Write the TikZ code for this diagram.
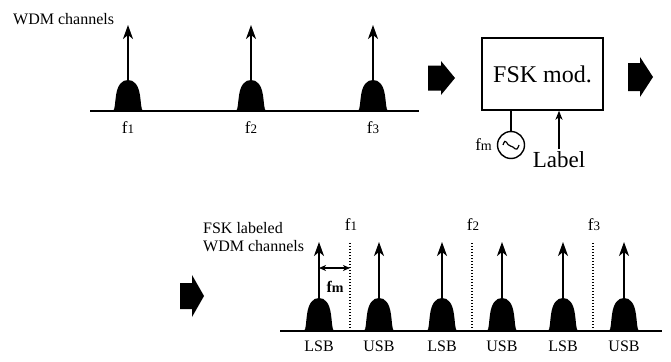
\documentclass[tikz,border=0pt]{standalone}
\usepackage{fontspec}
\setmainfont{Liberation Serif}
\usetikzlibrary{arrows.meta}
\newcommand\fq[1]{f\kern0.3pt{\fontsize{13}{13}\selectfont #1}}
\newcommand\blockarr[6]{%
  \fill (#1,#2-#3) -- (#1+#5,#2-#3) -- (#1+#5,#2-#4) -- (#1+#5+#6,#2)
   -- (#1+#5,#2+#4) -- (#1+#5,#2+#3) -- (#1,#2+#3) -- cycle;}
\tikzset{
  pics/bump/.style={code={
    \fill (-15,0) .. controls (-13,-1) and (-13,-0.3*#1) .. (-12,-0.5*#1)
      .. controls (-10.5,-0.85*#1) and (-6,-#1) .. (0,-#1)
      .. controls (6,-#1) and (10.5,-0.85*#1) .. (12,-0.5*#1)
      .. controls (13,-0.3*#1) and (13,-1) .. (15,0) -- cycle;}},
  axisline/.style={line width=1.6pt},
  carrier/.style={line width=1.8pt,-{Stealth[length=14pt,width=10pt,inset=4pt]}},
  lbl/.style={font=\fontsize{16}{16}\selectfont, inner sep=0pt},
  big/.style={font=\fontsize{24}{24}\selectfont, inner sep=0pt},
  dotline/.style={line width=1.6pt, dash pattern=on 1.3pt off 1.7pt},
}
\begin{document}
\begin{tikzpicture}[x=1pt,y=-1pt]
\useasboundingbox (0,0) rectangle (671,361);
% ---------- top spectrum ----------
\node[lbl, anchor=west] (wdm) at (13,19) {WDM channels};
\coordinate (a0) at (90,111);
\coordinate (a1) at (419,111);
\draw[axisline] (a0) -- (a1);
\foreach \x/\i in {128/1,251/2,373/3}{
  \pic at (\x,111) {bump=31};
  \coordinate (t\i) at (\x,82);
  \coordinate (h\i) at (\x,25);
  \draw[carrier] (t\i) -- (h\i);
  \node[lbl, font=\fontsize{17}{17}\selectfont] (f\i) at (\x,128) {\fq{\i}};
}
% ---------- modulator ----------
\blockarr{428}{78}{12.5}{17}{13}{14}
\node[draw, line width=1.4pt, minimum width=121pt, minimum height=72pt, big] (box) at (542.5,74) {FSK mod.};
\node[draw, circle, line width=1.4pt, minimum size=27pt, inner sep=0pt] (osc) at (511,145) {};
\draw[line width=1.3pt] (osc.north) -- (osc.north |- box.south);
\draw[line width=1.2pt] ([xshift=-8pt]osc.center) .. controls +(3,-9) and +(-4,0) .. ([xshift=-0.5pt,yshift=-1pt]osc.center)
  .. controls +(4,0) and +(-3,9) .. ([xshift=8pt]osc.center);
\node[lbl, anchor=east, font=\fontsize{17}{17}\selectfont] (fmlab) at (492,145) {f{\fontsize{14}{14}\selectfont m}};
\node[big, font=\fontsize{23}{23}\selectfont] (label) at (559,160) {Label};
\coordinate (lt) at (559,149);
\draw[line width=1.4pt, -{Stealth[length=9pt,width=7pt,inset=2.5pt]}] (lt) -- (lt |- box.south);
\blockarr{628}{77}{14}{20}{12}{13}
% ---------- bottom spectrum ----------
\blockarr{180}{296}{13}{21}{12}{12}
\node[lbl, anchor=west, align=left] (fskl) at (203,237) {FSK labeled\\[2pt]WDM channels};
\coordinate (b0) at (280,331);
\coordinate (b1) at (662,331);
\draw[axisline] (b0) -- (b1);
\foreach \x/\s/\n in {319/LSB/1,379/USB/2,442/LSB/3,502/USB/4,563/LSB/5,624/USB/6}{
  \pic at (\x,331) {bump=33};
  \coordinate (bt\n) at (\x,302);
  \coordinate (bh\n) at (\x,242);
  \draw[carrier] (bt\n) -- (bh\n);
  \node[lbl] (sb\n) at (\x,346) {\s};
}
\foreach \x/\i in {350/1,472/2,593/3}{
  \coordinate (dtop\i) at (\x,243);
  \coordinate (dbot\i) at (\x,330);
  \draw[dotline] (dtop\i) -- (dbot\i);
  \node[lbl, font=\fontsize{17}{17}\selectfont] (g\i) at (\x+1,225) {\fq{\i}};
}
\coordinate (m0) at (319,268);
\coordinate (m1) at (350,268);
\draw[line width=1.1pt, {Stealth[length=7pt,width=6pt,inset=2pt]}-{Stealth[length=7pt,width=6pt,inset=2pt]}] (m0) -- (m1);
\node[lbl, font=\bfseries\fontsize{16}{16}\selectfont] (fmb) at (335,287) {f{\fontsize{14}{14}\selectfont m}};
\end{tikzpicture}
\end{document}
